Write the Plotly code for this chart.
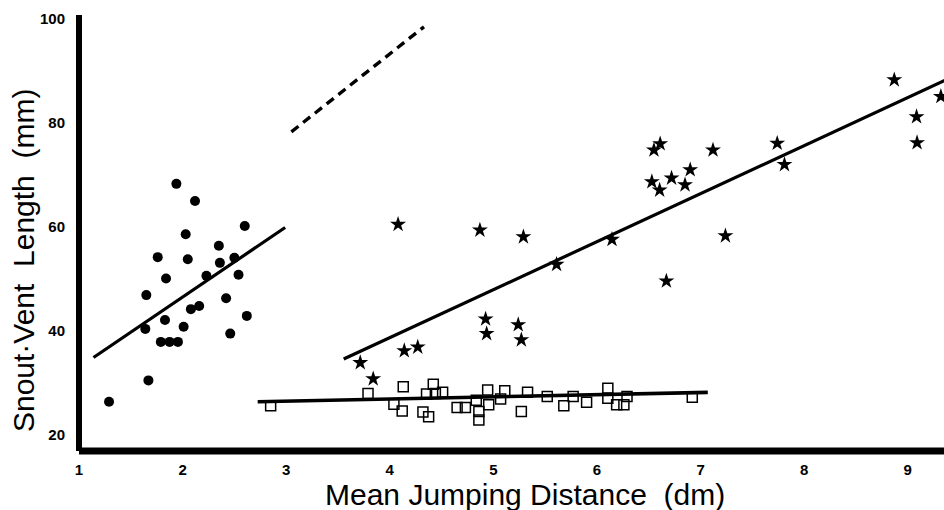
import plotly.graph_objects as go

# ---- data ----
circle_x = [2.60, 2.03, 2.35, 1.76, 2.05, 2.36, 2.50, 1.84, 2.23, 2.54, 1.65, 2.42, 2.08,
            2.16, 1.83, 2.62, 1.64, 2.01, 2.46, 1.79, 1.875, 1.955, 1.67, 1.29, 1.94, 2.12]
circle_y = [60.2, 58.6, 56.4, 54.2, 53.8, 53.1, 54.1, 50.1, 50.6, 50.8, 46.9, 46.3, 44.2,
            44.8, 42.1, 42.9, 40.4, 40.8, 39.5, 37.9, 37.9, 37.9, 30.5, 26.4, 68.3, 65.0]

star_x = [4.08, 4.87, 5.29, 5.61, 6.145, 4.925, 4.935, 5.24, 5.27, 4.14, 4.27, 3.715, 3.84,
          8.87, 9.32, 9.085, 9.09, 6.61, 6.55, 7.12, 7.74, 7.81, 6.90, 6.72, 6.53, 6.85,
          6.605, 7.24, 6.67]
star_y = [60.5, 59.4, 58.1, 52.8, 57.6, 42.3, 39.5, 41.2, 38.3, 36.2, 36.9, 33.9, 30.8,
          88.3, 85.1, 81.2, 76.2, 76.0, 74.8, 74.8, 76.1, 72.0, 71.0, 69.4, 68.7, 68.1,
          67.1, 58.3, 49.6]

square_x = [2.85, 3.79, 4.13, 4.04, 4.12, 4.42, 4.355, 4.44, 4.51, 4.32, 4.375, 4.65, 4.73,
            4.835, 4.86, 4.86, 4.945, 4.955, 5.07, 5.11, 5.27, 5.33, 5.52, 5.68, 5.77, 5.90,
            6.105, 6.105, 6.19, 6.26, 6.29, 6.92]
square_y = [25.6, 28.0, 29.3, 25.9, 24.6, 29.75, 27.9, 28.0, 28.2, 24.4, 23.5, 25.3, 25.3,
            26.7, 24.5, 22.9, 28.65, 25.8, 26.9, 28.5, 24.5, 28.2, 27.4, 25.6, 27.4, 26.3,
            29.0, 27.05, 25.8, 25.8, 27.4, 27.25]

fit_circle_x = [1.14, 2.99]
fit_circle_y = [34.9, 59.9]
fit_star_x = [3.555, 9.36]
fit_star_y = [34.6, 88.2]
fit_square_x = [2.725, 7.07]
fit_square_y = [26.4, 28.2]
dashed_x = [3.05, 4.33]
dashed_y = [78.3, 98.5]

x_ticks = [1, 2, 3, 4, 5, 6, 7, 8, 9]
y_ticks = [20, 40, 60, 80, 100]
x_title = "Mean Jumping Distance  (dm)"
y_title = "Snout·Vent  Length  (mm)"

TITLE_FONT = "Liberation Sans, Arial, sans-serif"
TICK_FONT = "Liberation Sans, Arial, sans-serif"

fig = go.Figure()

line_style = dict(color="black", width=3.2)
fig.add_trace(go.Scatter(x=fit_circle_x, y=fit_circle_y, mode="lines", line=line_style))
fig.add_trace(go.Scatter(x=fit_star_x, y=fit_star_y, mode="lines", line=line_style))
fig.add_trace(go.Scatter(x=fit_square_x, y=fit_square_y, mode="lines",
                         line=dict(color="black", width=3.6)))
fig.add_trace(go.Scatter(x=dashed_x, y=dashed_y, mode="lines",
                         line=dict(color="black", width=3.4, dash="9px,6px")))

fig.add_trace(go.Scatter(x=circle_x, y=circle_y, mode="markers",
                         marker=dict(symbol="circle", size=10, color="black")))
fig.add_trace(go.Scatter(x=star_x, y=star_y, mode="markers",
                         marker=dict(symbol="star", size=12, color="black")))
fig.add_trace(go.Scatter(x=square_x, y=square_y, mode="markers",
                         marker=dict(symbol="square-open", size=10, color="black",
                                     line=dict(width=1.5, color="black"))))

fig.update_layout(
    width=944, height=510,
    margin=dict(l=79, r=0, t=15, b=59),
    paper_bgcolor="white", plot_bgcolor="white",
    showlegend=False,
    xaxis=dict(range=[1, 9.35], tickvals=x_ticks, ticktext=[str(v) for v in x_ticks],
               showgrid=False, zeroline=False, showline=False, ticks="",
               ticklabelstandoff=8,
               tickfont=dict(family=TICK_FONT, size=15, color="black", weight="bold")),
    yaxis=dict(range=[16.92, 100.77], tickvals=y_ticks, ticktext=[str(v) for v in y_ticks],
               showgrid=False, zeroline=False, showline=False, ticks="",
               ticklabelstandoff=13,
               tickfont=dict(family=TICK_FONT, size=15, color="black", weight="bold")),
    shapes=[
        dict(type="line", xref="paper", yref="paper", x0=0, x1=0, y0=0, y1=1,
             line=dict(color="black", width=6)),
        dict(type="line", xref="paper", yref="paper", x0=0, x1=1, y0=0, y1=0,
             line=dict(color="black", width=7)),
    ],
    annotations=[
        dict(text=x_title, xref="paper", yref="paper", x=0.5156, y=-0.099,
             xanchor="center", yanchor="middle", showarrow=False,
             font=dict(family=TITLE_FONT, size=30, color="black")),
        dict(text=y_title, xref="paper", yref="paper", x=-0.0647, y=0.438,
             xanchor="center", yanchor="middle", showarrow=False, textangle=-90,
             font=dict(family=TITLE_FONT, size=30, color="black")),
    ],
)

fig.write_html("out.html")
